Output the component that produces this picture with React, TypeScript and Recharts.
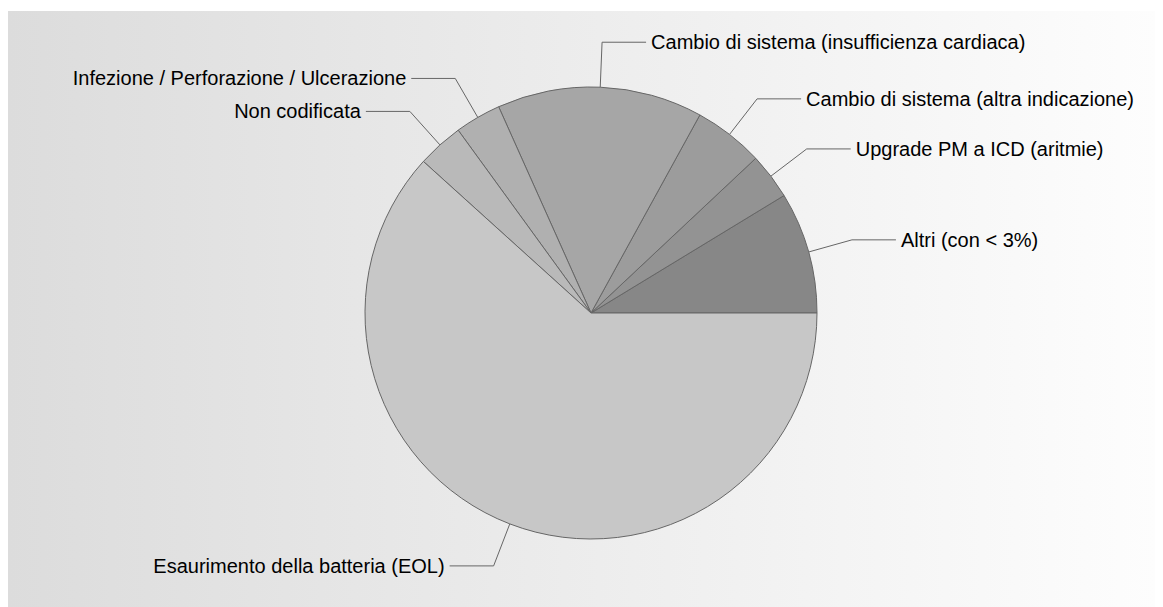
import React from 'react';
import { PieChart, Pie, Cell } from 'recharts';

const categories = [
  'Altri (con < 3%)',
  'Upgrade PM a ICD (aritmie)',
  'Cambio di sistema (altra indicazione)',
  'Cambio di sistema (insufficienza cardiaca)',
  'Infezione / Perforazione / Ulcerazione',
  'Non codificata',
  'Esaurimento della batteria (EOL)',
];

const values = [8.7, 3.3, 5.0, 14.7, 3.3, 3.3, 61.7];

const colors = ['#878787', '#939393', '#9c9c9c', '#a6a6a6', '#b0b0b0', '#b9b9b9', '#c7c7c7'];

const data = categories.map((name, i) => ({ name, value: values[i] }));

const RAD = Math.PI / 180;

function renderLabel(props: any) {
  const { cx, cy, midAngle, outerRadius, name } = props;
  const c = Math.cos(midAngle * RAD);
  const s = Math.sin(midAngle * RAD);
  const far = outerRadius + 45;
  const x0 = cx + outerRadius * c;
  const y0 = cy - outerRadius * s;
  const x1 = cx + far * c;
  const y1 = cy - far * s;
  const right = c >= 0;
  const x2 = right ? x1 + 44 : x1 - 44;
  const tx = right ? x2 + 5 : x2 - 5;
  return (
    <g>
      <path d={`M${x0},${y0}L${x1},${y1}L${x2},${y1}`} stroke="#666" strokeWidth={1} fill="none" />
      <text
        x={tx}
        y={y1}
        textAnchor={right ? 'start' : 'end'}
        dominantBaseline="central"
        fill="#000"
        fontSize={20}
        fontFamily="'Liberation Sans', Arial, sans-serif"
      >
        {name}
      </text>
    </g>
  );
}

export default function App() {
  return (
    <div
      style={{
        width: 1147,
        height: 596,
        marginTop: 3,
        background: 'linear-gradient(to right, #dcdcdc, #fdfdfd)',
      }}
    >
      <PieChart width={1147} height={596}>
        <Pie
          data={data}
          dataKey="value"
          nameKey="name"
          cx={578}
          cy={297}
          outerRadius={226}
          startAngle={0}
          endAngle={360}
          stroke="#666"
          strokeWidth={1}
          label={renderLabel}
          labelLine={false}
          isAnimationActive={false}
        >
          {data.map((d, i) => (
            <Cell key={d.name} fill={colors[i]} />
          ))}
        </Pie>
      </PieChart>
    </div>
  );
}
